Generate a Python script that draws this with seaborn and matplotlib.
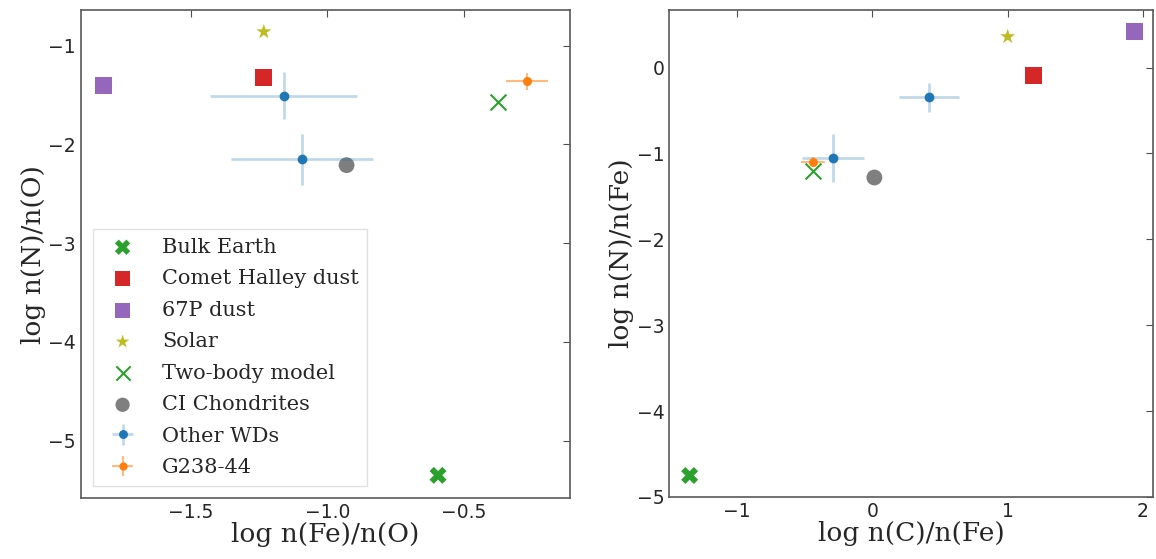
import numpy as np
import seaborn as sns
import matplotlib
matplotlib.use('Agg')
import matplotlib.pyplot as plt

sns.set_style('white')
plt.rcParams['font.family'] = ['DejaVu Sans']

# --- data ---
labels = ['Bulk Earth', 'Comet Halley dust', '67P dust', 'Solar',
          'Two-body model', 'CI Chondrites']

# left panel: log n(Fe)/n(O) vs log n(N)/n(O)
fe_o = [-0.595, -1.236, -1.82, -1.233, -0.375, -0.93]
n_o = [-5.35, -1.32, -1.40, -0.86, -1.57, -2.21]
wd_fe_o = [-1.16, -1.093]
wd_n_o = [-1.505, -2.15]
wd_fe_o_err = [0.27, 0.26]
wd_n_o_err = [0.24, 0.26]
g_fe_o, g_n_o = [-0.27], [-1.36]
g_fe_o_err, g_n_o_err = [0.077], [0.085]

# right panel: log n(C)/n(Fe) vs log n(N)/n(Fe)
c_fe = [-1.35, 1.19, 1.94, 1.0, -0.44, 0.015]
n_fe = [-4.75, -0.09, 0.42, 0.36, -1.20, -1.28]
wd_c_fe = [0.42, -0.29]
wd_n_fe = [-0.345, -1.05]
wd_c_fe_err = [0.22, 0.23]
wd_n_fe_err = [0.17, 0.28]
g_c_fe, g_n_fe = [-0.44], [-1.10]
g_c_fe_err, g_n_fe_err = [0.09], [0.06]

# marker styles per category
markers = ['X', 's', 's', '*', 'x', 'o']
colors = ['tab:green', 'tab:red', 'tab:purple', 'tab:olive', 'tab:green', 'tab:gray']
sizes = [150, 150, 150, 130, 130, 130]

serif = {'family': 'DejaVu Serif'}


def draw(ax, xs, ys, wx, wy, wxe, wye, gx, gy, gxe, gye):
    for x, y, lab, m, c, s in zip(xs, ys, labels, markers, colors, sizes):
        if m == 'x':
            sns.scatterplot(x=[x], y=[y], marker=m, color=c, s=s, label=lab,
                            linewidth=1.5, ax=ax)
        else:
            sns.scatterplot(x=[x], y=[y], marker=m, color=c, s=s, label=lab,
                            edgecolor='none', ax=ax)
    ax.errorbar(wx, wy, xerr=wxe, yerr=wye, fmt='o', ms=6, color='tab:blue',
                ecolor=(0.12, 0.47, 0.71, 0.28), elinewidth=2, label='Other WDs')
    ax.errorbar(gx, gy, xerr=gxe, yerr=gye, fmt='o', ms=5.5, color='tab:orange',
                ecolor=(1.0, 0.5, 0.05, 0.55), elinewidth=1.5, label='G238-44')
    ax.tick_params(direction='in', top=True, right=True, labelsize=13.5,
                   length=5, color='0.3')
    for sp in ax.spines.values():
        sp.set_color('0.35')
        sp.set_linewidth(1.2)


fig = plt.figure(figsize=(11.56, 5.59), dpi=100)
ax1 = fig.add_axes([0.070, 0.109, 0.423, 0.873])
ax2 = fig.add_axes([0.579, 0.111, 0.418, 0.871])

draw(ax1, fe_o, n_o, wd_fe_o, wd_n_o, wd_fe_o_err, wd_n_o_err,
     g_fe_o, g_n_o, g_fe_o_err, g_n_o_err)
draw(ax2, c_fe, n_fe, wd_c_fe, wd_n_fe, wd_c_fe_err, wd_n_fe_err,
     g_c_fe, g_n_fe, g_c_fe_err, g_n_fe_err)

ax1.set_xlim(-1.903, -0.112)
ax1.set_ylim(-5.58, -0.64)
ax1.set_xticks([-1.5, -1.0, -0.5])
ax1.set_yticks([-5, -4, -3, -2, -1])
ax1.set_xlabel('log n(Fe)/n(O)', fontsize=19, fontdict=serif, labelpad=0)
ax1.set_ylabel('log n(N)/n(O)', fontsize=19, fontdict=serif, labelpad=2)

ax2.set_xlim(-1.50, 2.07)
ax2.set_ylim(-5.0, 0.67)
ax2.set_xticks([-1, 0, 1, 2])
ax2.set_yticks([-5, -4, -3, -2, -1, 0])
ax2.set_xlabel('log n(C)/n(Fe)', fontsize=19, fontdict=serif, labelpad=0)
ax2.set_ylabel('log n(N)/n(Fe)', fontsize=19, fontdict=serif, labelpad=2)

ax1.legend(loc='lower left', prop={'family': 'DejaVu Serif', 'size': 15},
           frameon=True, edgecolor='0.85', fancybox=False, labelspacing=0.6,
           borderaxespad=0.6, handletextpad=0.9, markerscale=0.9)
ax2.get_legend().remove()

fig.savefig('out.png', dpi=100)
